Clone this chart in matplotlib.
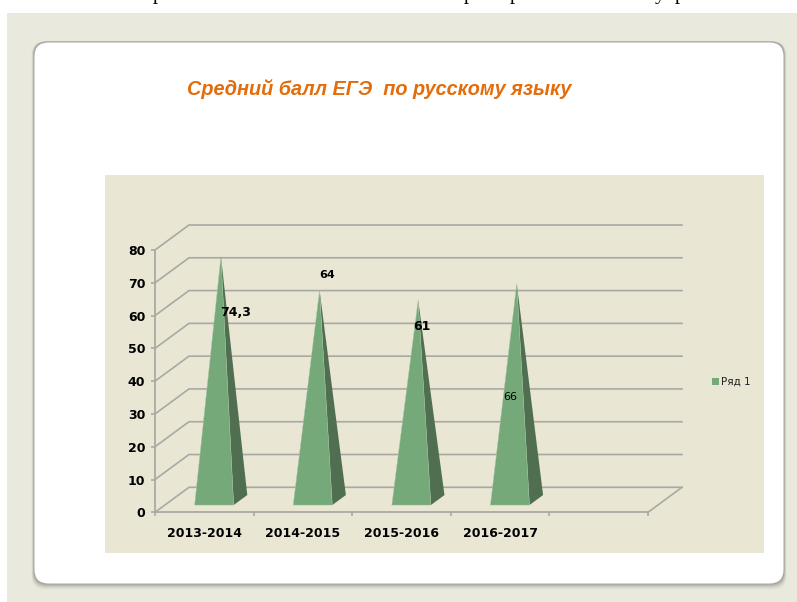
import matplotlib
matplotlib.use("Agg")
import matplotlib.pyplot as plt
from matplotlib.patches import FancyBboxPatch, Polygon, Rectangle

categories = ["2013-2014", "2014-2015", "2015-2016", "2016-2017", ""]
values = [74.3, 64, 61, 66]
labels = ["74,3", "64", "61", "66"]
yticks = [0, 10, 20, 30, 40, 50, 60, 70, 80]
title = "Средний балл ЕГЭ  по русскому языку"
legend_label = "Ряд 1"
# only the descenders of the line above the slide are left in the picture
cut_letters = ["р", "р", "р", "у", "р"]
cut_x = [158, 469, 515, 660, 680]

W, H = 797, 602
GREY = "#A9A9A3"
LIGHT = "#76A97A"
DARK = "#4F6F50"

# depth of the fake 3d box, in px
DX, DY = 34, 25

fig = plt.figure(figsize=(W / 100, H / 100), dpi=100)
fig.patch.set_facecolor("white")

bg = fig.add_axes([0, 0, 1, 1])
bg.set_xlim(0, W)
bg.set_ylim(H, 0)
bg.axis("off")
bg.add_patch(Rectangle((7, 13), W - 7, H - 13, fc="#E9E9DD", ec="none"))
# soft shadow of the card
for grow, c in [(5, "#E2E2D6"), (4, "#D8D8CD"), (3, "#CBCBC1"), (2, "#BABAB1"), (1, "#A8A8A0")]:
    bg.add_patch(FancyBboxPatch((34 - grow * 0.5, 41.5), 750 + grow, 542 + grow * 1.2,
                                boxstyle="round,pad=0,rounding_size=14", fc=c, ec="none"))
bg.add_patch(FancyBboxPatch((34.5, 42.5), 749, 541, boxstyle="round,pad=0,rounding_size=14", fc="white", ec="none"))
bg.add_patch(Rectangle((105, 175), 659, 378, fc="#E9E6D4", ec="none"))
bg.text(187, 89, title, color="#E46C0A", fontsize=14.3, fontweight="bold", fontstyle="italic",
        family="Liberation Sans", ha="left", va="center")
for s, x in zip(cut_letters, cut_x):
    bg.text(x, -5, s, color="black", fontsize=15, family="Liberation Serif", ha="center", va="center")

# front plane of the chart
ax = fig.add_axes([155 / W, 1 - 512.3 / H, (648 - 155) / W, (512.3 - 250) / H])
ax.set_xlim(0, 5)
ax.set_ylim(0, 80)
ax.patch.set_alpha(0)
for s in ["top", "right"]:
    ax.spines[s].set_visible(False)
for s in ["left", "bottom"]:
    ax.spines[s].set_color(GREY)
    ax.spines[s].set_linewidth(1.3)

ux = 5 / (648 - 155)
uy = 80 / (512.3 - 250)


def proj(x, y, d):
    return x + d * DX * ux, y + d * DY * uy


for t in yticks:
    x0, y0 = proj(0, t, 1)
    x1, y1 = proj(5, t, 1)
    ax.plot([0, x0, x1], [t, y0, y1], color=GREY, lw=1.2, clip_on=False, zorder=1)
xf, yf = proj(5, 0, 1)
ax.plot([5, xf], [0, yf], color=GREY, lw=1.2, clip_on=False, zorder=1)

half = 0.198
for i, v in enumerate(values):
    c = i + 0.5
    fl = proj(c - half, 0, 0.29)
    fr = proj(c + half, 0, 0.29)
    br = proj(c + half, 0, 0.69)
    apex = proj(c, v, 0.49)
    ax.add_patch(Polygon([fr, br, apex], fc=DARK, ec="none", clip_on=False, zorder=3))
    ax.add_patch(Polygon([fl, fr, apex], fc=LIGHT, ec="#A8C4A4", lw=0.3, clip_on=False, zorder=3))

ax.set_xticks(range(6))
ax.set_xticklabels([])
ax.set_yticks(yticks)
ax.tick_params(axis="x", color=GREY, width=1.2, length=3, direction="out")
ax.tick_params(axis="y", color=GREY, width=1.2, length=3, labelsize=9, pad=4)
for lab in ax.get_yticklabels():
    lab.set_fontweight("bold")
for i, name in enumerate(categories):
    ax.annotate(name, (i + 0.5, 0), xytext=(0, -21), textcoords="offset pixels", ha="center", va="center",
                fontsize=9, fontweight="bold", annotation_clip=False)

# data labels sit where they were dragged in the original
label_pos = [(236, 313), (327.5, 274.5), (421.5, 326.5), (510.5, 397)]
label_style = [("bold", 9), ("bold", 8), ("bold", 9), ("normal", 8)]
for s, (x, y), (w, fs) in zip(labels, label_pos, label_style):
    fig.text(x / W, 1 - y / H, s, ha="center", va="center", fontweight=w, fontsize=fs, zorder=10)

bg.add_patch(Rectangle((712, 378), 7, 7, fc=LIGHT, ec="none"))
bg.text(721, 381.5, legend_label, fontsize=7.5, ha="left", va="center", color="#222222")

fig.savefig("out.png", dpi=100)
